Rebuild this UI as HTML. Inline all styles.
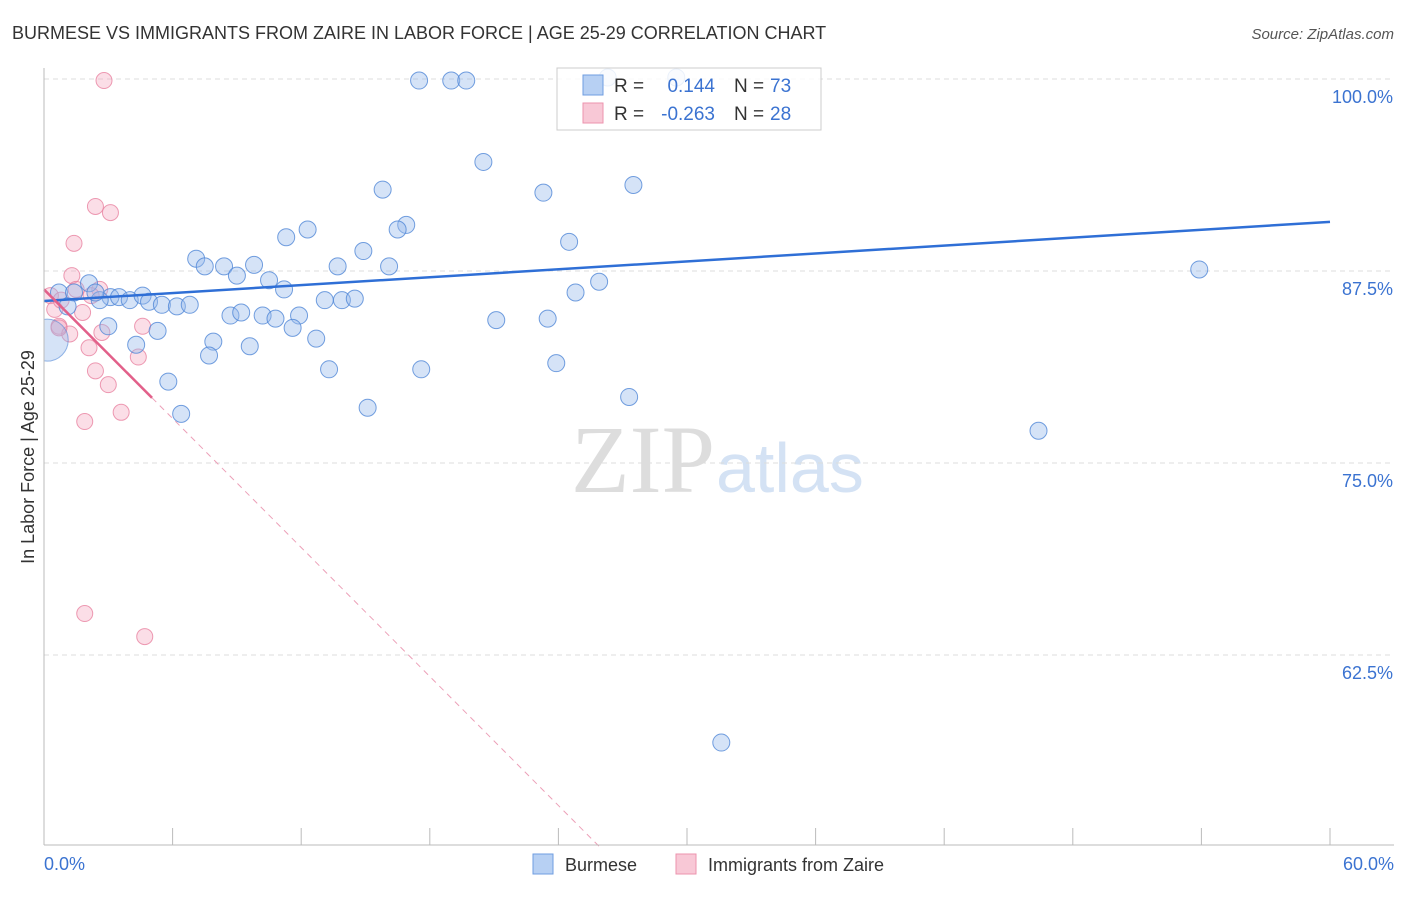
<!DOCTYPE html>
<html><head><meta charset="utf-8"><style>
body{margin:0;background:#fff;font-family:"Liberation Sans",sans-serif;}
svg text{font-family:"Liberation Sans",sans-serif;}
</style></head><body>
<svg id="chart" width="1406" height="892" xmlns="http://www.w3.org/2000/svg">
<defs><clipPath id="plotclip"><rect x="44" y="60" width="1360" height="785"/></clipPath></defs>
<text x="12" y="39" font-size="18" fill="#333">BURMESE VS IMMIGRANTS FROM ZAIRE IN LABOR FORCE | AGE 25-29 CORRELATION CHART</text>
<text x="1394" y="39" font-size="15" fill="#555" font-style="italic" text-anchor="end">Source: ZipAtlas.com</text>
<text x="0" y="0" font-size="18" fill="#333" text-anchor="middle" transform="translate(34,457) rotate(-90)">In Labor Force | Age 25-29</text>
<text x="715" y="492" font-size="96" fill="#ddd" text-anchor="end" style="font-family:'Liberation Serif',serif">ZIP</text>
<text x="716" y="492" font-size="70" fill="#d4e2f4">atlas</text>
<g id="grid"></g><g id="pts" clip-path="url(#plotclip)"></g><g id="lines"></g>
<line x1="44" y1="68" x2="44" y2="845" stroke="#bbb"/>
<line x1="44" y1="845" x2="1394" y2="845" stroke="#bbb"/>
<text x="44" y="870" font-size="18" fill="#3b73d1">0.0%</text>
<text x="1394" y="870" font-size="18" fill="#3b73d1" text-anchor="end">60.0%</text>
<g>
<rect x="557" y="68" width="264" height="62" fill="rgba(255,255,255,0.85)" stroke="#ccc"/>
<rect x="583" y="75" width="20" height="20" fill="#b7d0f3" stroke="#6f9ee0"/>
<rect x="583" y="103" width="20" height="20" fill="#f8c8d6" stroke="#ec93ae"/>
<text x="614" y="92" font-size="19" fill="#333">R =</text><text x="715" y="92" font-size="19" fill="#3b73d1" text-anchor="end">0.144</text>
<text x="734" y="92" font-size="19" fill="#333">N =</text><text x="770" y="92" font-size="19" fill="#3b73d1">73</text>
<text x="614" y="120" font-size="19" fill="#333">R =</text><text x="715" y="120" font-size="19" fill="#3b73d1" text-anchor="end">-0.263</text>
<text x="734" y="120" font-size="19" fill="#333">N =</text><text x="770" y="120" font-size="19" fill="#3b73d1">28</text>
</g>
<g>
<rect x="533" y="854" width="20" height="20" fill="#b7d0f3" stroke="#6f9ee0"/>
<text x="565" y="871" font-size="18" fill="#333">Burmese</text>
<rect x="676" y="854" width="20" height="20" fill="#f8c8d6" stroke="#ec93ae"/>
<text x="708" y="871" font-size="18" fill="#333">Immigrants from Zaire</text>
</g>
</svg>
<script>
const yTicks=[100,87.5,75,62.5];
const yTickLabels=["100.0%","87.5%","75.0%","62.5%"];
const xTickVals=[0,6,12,18,24,30,36,42,48,54,60];
const burmeseX=[17.5,19.0,19.7,26.3,29.5,20.5,23.3,27.5,15.8,16.9,16.5,24.5,11.3,12.3,14.9,7.1,7.5,8.4,9.0,9.8,13.7,16.1,10.5,11.2,25.9,24.8,53.9,2.1,0.7,1.4,3.1,3.5,4.0,4.6,4.9,5.5,6.2,6.8,2.6,2.4,1.1,13.1,13.9,14.5,8.7,9.2,10.2,10.8,11.9,11.6,21.1,23.5,3.0,5.3,7.9,12.7,4.3,9.6,7.7,23.9,13.3,17.6,5.8,27.3,15.1,6.4,46.4,31.6];
const burmeseY=[99.9,99.9,99.9,100.1,100.1,94.6,92.6,93.1,92.8,90.5,90.2,89.4,89.7,90.2,88.8,88.3,87.8,87.8,87.2,87.9,87.8,87.8,86.9,86.3,86.8,86.1,87.6,86.7,86.1,86.1,85.8,85.8,85.6,85.9,85.5,85.3,85.2,85.3,85.6,86.1,85.2,85.6,85.6,85.7,84.6,84.8,84.6,84.4,84.6,83.8,84.3,84.4,83.9,83.6,82.9,83.1,82.7,82.6,82.0,81.5,81.1,81.1,80.3,79.3,78.6,78.2,77.1,56.8];
const zaireX=[2.8,2.4,3.1,1.4,1.3,0.3,1.5,2.6,2.2,0.5,1.8,0.7,1.2,4.6,2.7,2.1,4.4,2.4,3.0,3.6,1.9,1.9,4.7,0.8,0.7];
const zaireY=[99.9,91.7,91.3,89.3,87.2,85.9,86.3,86.3,85.9,85.0,84.8,83.9,83.4,83.9,83.5,82.5,81.9,81.0,80.1,78.3,77.7,65.2,63.7,85.6,83.8];
const burmeseTrend=[85.55,90.7];
const zaireTrend=[86.3,-1.40];
const NS="http://www.w3.org/2000/svg";
const sx=v=>44+v/60*1286;
const sy=v=>79+(100-v)*15.36;
function mk(t,a,p){const e=document.createElementNS(NS,t);for(const k in a)e.setAttribute(k,a[k]);p.appendChild(e);return e;}
const grid=document.getElementById('grid');
yTicks.forEach((v,i)=>{
 const l=mk('line',{x1:44,x2:1394,y1:sy(v),y2:sy(v),stroke:'#ddd','stroke-dasharray':'5,4'},grid);
 
 
 const t=mk('text',{x:1393,y:sy(v)+24,'font-size':18,fill:'#3b73d1','text-anchor':'end'},grid);
 t.textContent=yTickLabels[i];
 
 
});
xTickVals.forEach(v=>{
 const l=mk('line',{x1:sx(v),x2:sx(v),y1:828,y2:845,stroke:'#bbb'},grid);
 
 
});
const pts=document.getElementById('pts');
zaireX.forEach((x,i)=>{
 const c=mk('circle',{cx:sx(x),cy:sy(zaireY[i]),r:8,fill:'rgba(244,160,186,0.35)',stroke:'rgba(232,130,160,0.8)'},pts);
 
 
});
burmeseX.forEach((x,i)=>{
 const c=mk('circle',{cx:sx(x),cy:sy(burmeseY[i]),r:8.5,fill:'rgba(150,186,236,0.4)',stroke:'rgba(80,135,215,0.8)'},pts);
 
 
});
const big=mk('circle',{cx:sx(0.15),cy:sy(83.0),r:21,fill:'rgba(150,186,236,0.4)',stroke:'rgba(80,135,215,0.6)'},pts);


const lines=document.getElementById('lines');
const bl=mk('line',{x1:sx(0),y1:sy(burmeseTrend[0]),x2:sx(60),y2:sy(burmeseTrend[1]),stroke:'#2f6fd6','stroke-width':2.5},lines);


const zy=x=>zaireTrend[0]+zaireTrend[1]*x;
const xEnd=(50-zaireTrend[0])/zaireTrend[1];
const zs=mk('line',{x1:sx(0),y1:sy(zy(0)),x2:sx(5.04),y2:sy(zy(5.04)),stroke:'#e2608a','stroke-width':2.5},lines);


const zd=mk('line',{x1:sx(5.04),y1:sy(zy(5.04)),x2:sx(xEnd),y2:sy(50),stroke:'#eca0b8','stroke-width':1,'stroke-dasharray':'6,5'},lines);


</script>
</body></html>
